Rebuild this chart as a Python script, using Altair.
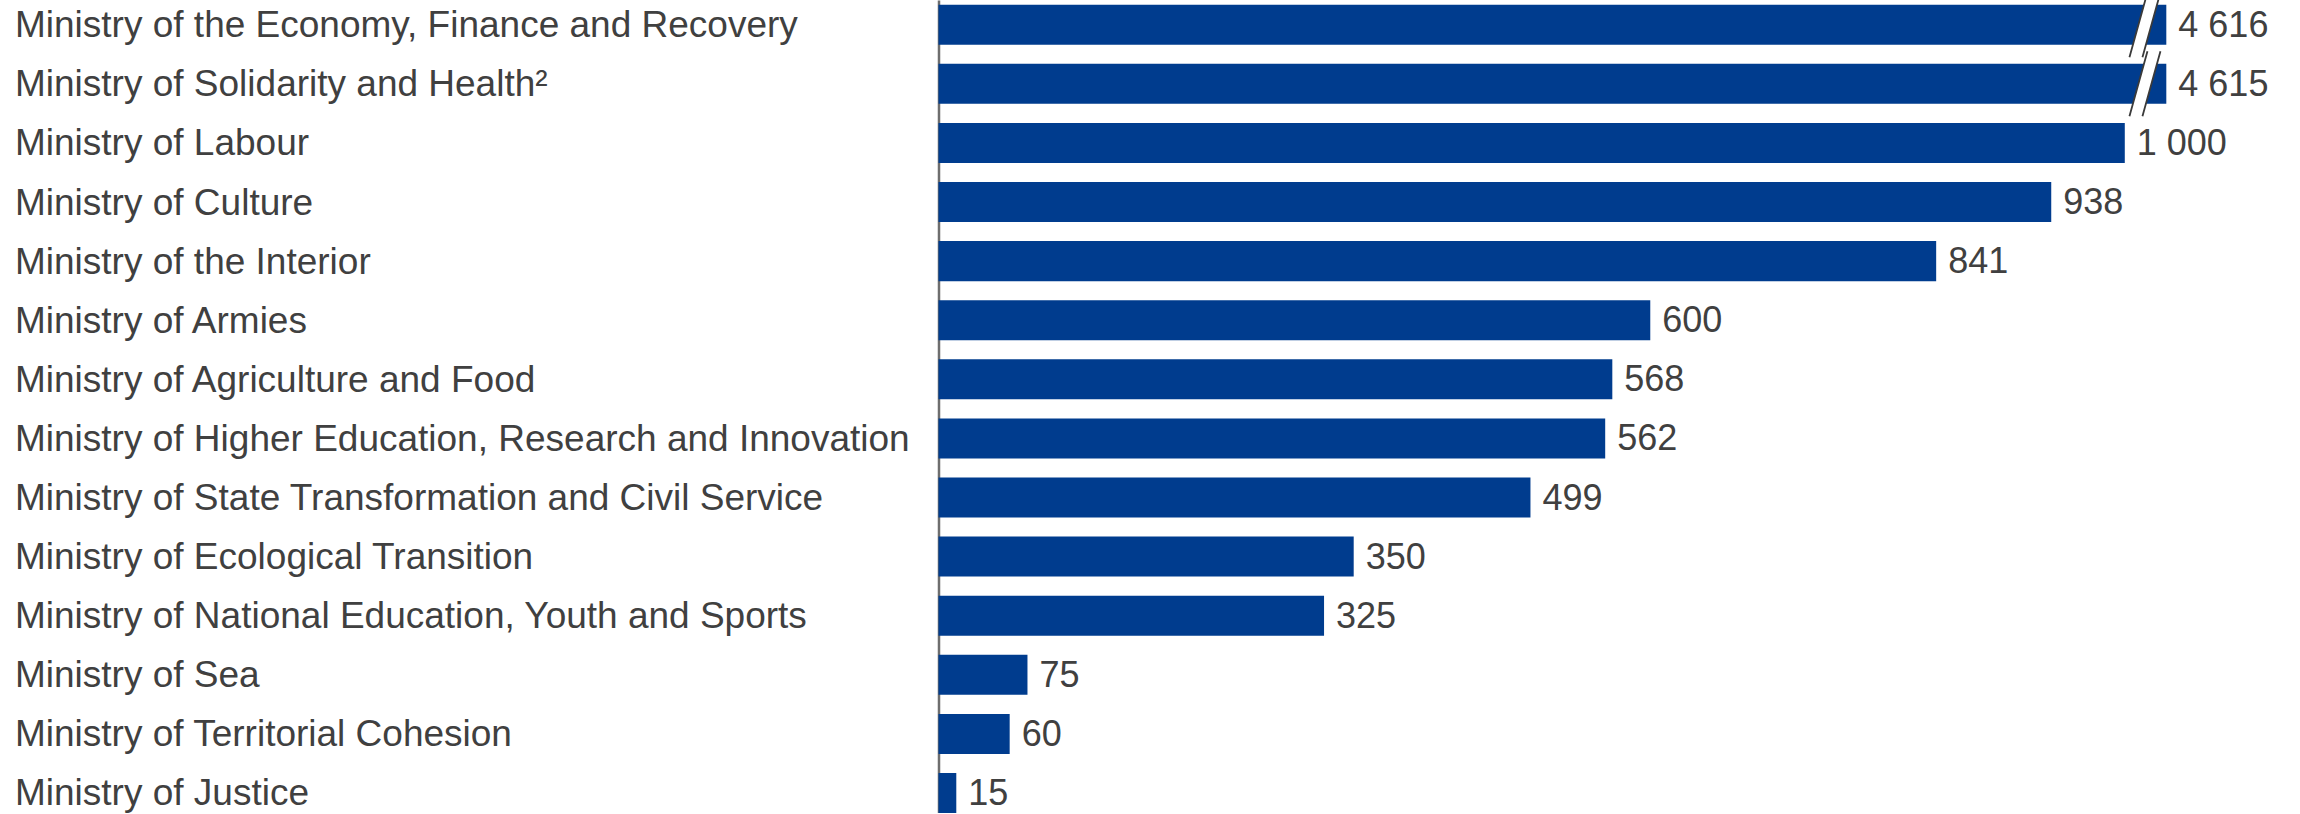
import altair as alt
import pandas as pd

ministries = [
    "Ministry of the Economy, Finance and Recovery",
    "Ministry of Solidarity and Health\u00b2",
    "Ministry of Labour",
    "Ministry of Culture",
    "Ministry of the Interior",
    "Ministry of Armies",
    "Ministry of Agriculture and Food",
    "Ministry of Higher Education, Research and Innovation",
    "Ministry of State Transformation and Civil Service",
    "Ministry of Ecological Transition",
    "Ministry of National Education, Youth and Sports",
    "Ministry of Sea",
    "Ministry of Territorial Cohesion",
    "Ministry of Justice",
]
values = [4616, 4615, 1000, 938, 841, 600, 568, 562, 499, 350, 325, 75, 60, 15]

# axis break: bars longer than CAP are drawn cut, with a break symbol at BREAK_AT
CAP = 1035
BREAK_AT = 1017

BLUE = "#003C8E"
TEXT = "#404040"
FONT = "Liberation Sans"

df = pd.DataFrame({
    "ministry": ministries,
    "value": values,
})
df["shown"] = df["value"].clip(upper=CAP)
df["label"] = df["value"].map(lambda v: f"{v:,}".replace(",", " "))
df["brk"] = BREAK_AT

broken = df[df["value"] > CAP]

W, H = 1350, 813
x_scale = alt.Scale(domain=[0, 1138], nice=False, zero=True)
y_scale = alt.Scale(paddingInner=0.323, paddingOuter=0.04, align=1)

y_enc = alt.Y(
    "ministry:N",
    sort=ministries,
    scale=y_scale,
    axis=alt.Axis(
        title=None,
        ticks=False,
        tickSize=0,
        grid=False,
        labelAlign="left",
        labelBaseline="middle",
        labelPadding=924,
        labelOffset=1.5,
        labelLimit=2000,
        labelFontSize=37,
        labelFont=FONT,
        labelColor=TEXT,
        domainColor="#6e6e6e",
        domainWidth=2.5,
    ),
)

bars = alt.Chart(df).mark_bar(color=BLUE).encode(
    x=alt.X("shown:Q", scale=x_scale, axis=None),
    y=y_enc,
)

texts = alt.Chart(df).mark_text(
    align="left", baseline="middle", dx=12, dy=1, fontSize=36, font=FONT, color=TEXT
).encode(
    x=alt.X("shown:Q", scale=x_scale, axis=None),
    y=alt.Y("ministry:N", sort=ministries, scale=y_scale),
    text="label:N",
)

gap_path = "M -0.477 1 L 0.077 -1 L 0.477 -1 L -0.077 1 Z"
line_path = "M -0.477 1 L 0.077 -1 M -0.077 1 L 0.477 -1"

gap = alt.Chart(broken).mark_point(
    shape=gap_path, filled=True, fill="white", opacity=1, strokeWidth=0, size=65 * 65
).encode(
    x=alt.X("brk:Q", scale=x_scale, axis=None),
    y=alt.Y("ministry:N", sort=ministries, scale=y_scale),
)

lines = alt.Chart(broken).mark_point(
    shape=line_path, filled=False, stroke="#3a3a3a", strokeWidth=1.8, opacity=1, size=65 * 65
).encode(
    x=alt.X("brk:Q", scale=x_scale, axis=None),
    y=alt.Y("ministry:N", sort=ministries, scale=y_scale),
)

chart = (
    alt.layer(bars, gap, lines, texts)
    .properties(
        width=W,
        height=H,
        autosize=alt.AutoSizeParams(type="none"),
        padding={"left": 938.5, "top": 0, "right": 8, "bottom": 0},
    )
    .configure_view(strokeWidth=0)
)

chart.save("out.html", embed_options={"renderer": "svg", "actions": False})
